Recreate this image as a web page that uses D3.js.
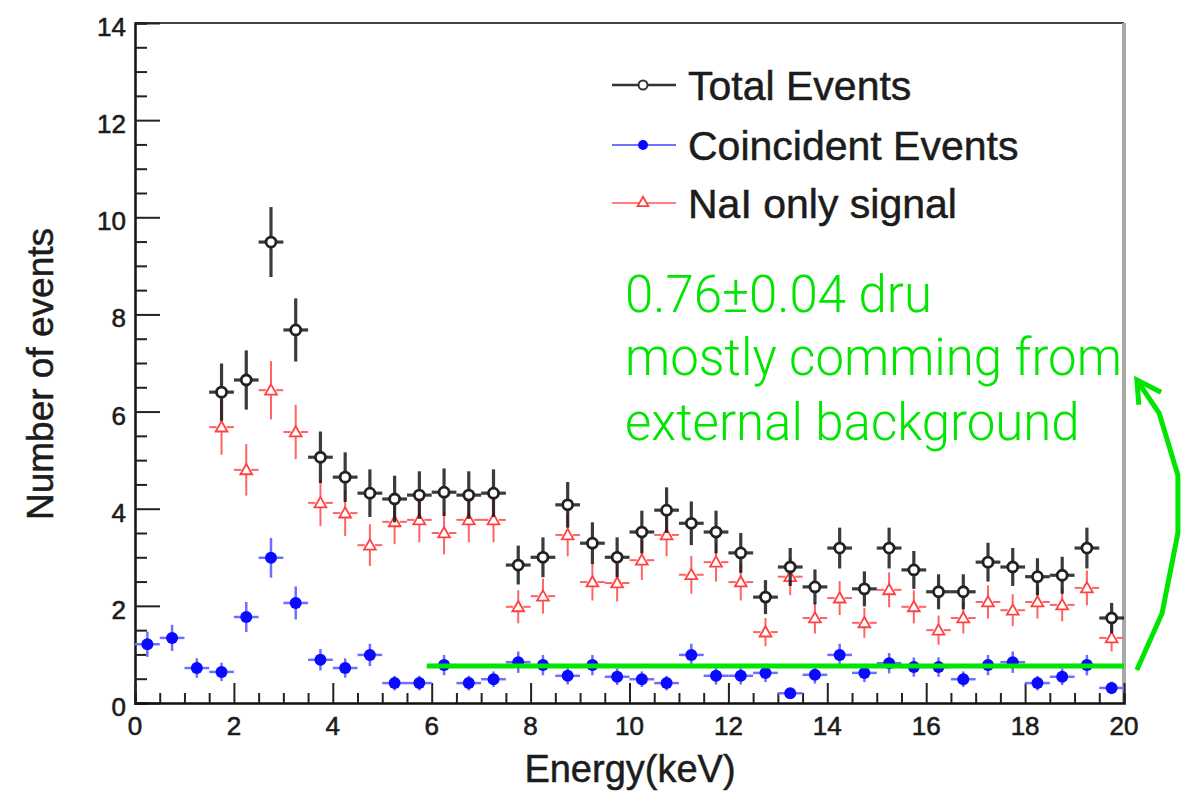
<!DOCTYPE html>
<html>
<head>
<meta charset="utf-8">
<script src="https://cdn.jsdelivr.net/npm/d3@7"></script>
<style>
  html, body { margin: 0; padding: 0; background: #fff; }
  svg { display: block; }
</style>
</head>
<body>
<svg id="chart" width="1189" height="793"></svg>
<script>
// ---------------- data ----------------
const binCentersAll = [0.25,0.75,1.25,1.75,2.25,2.75,3.25,3.75,4.25,4.75,5.25,5.75,6.25,6.75,7.25,7.75,8.25,8.75,9.25,9.75,
  10.25,10.75,11.25,11.75,12.25,12.75,13.25,13.75,14.25,14.75,15.25,15.75,16.25,16.75,17.25,17.75,18.25,18.75,19.25,19.75];
const binCentersFrom175 = binCentersAll.slice(3);
const binHalfWidth = 0.25;

const totalEvents = [6.40,6.65,9.49,7.68,5.06,4.65,4.32,4.20,4.28,4.34,4.28,4.32,2.84,3.00,4.08,3.29,3.00,3.52,3.97,3.70,
  3.52,3.09,2.18,2.80,2.39,3.19,2.35,3.19,2.74,2.29,2.29,2.90,2.80,2.60,2.63,3.19,1.75];
const totalErr = [0.59,0.61,0.72,0.65,0.53,0.51,0.49,0.48,0.49,0.49,0.49,0.49,0.40,0.41,0.47,0.43,0.41,0.44,0.47,0.45,
  0.44,0.41,0.35,0.39,0.36,0.42,0.36,0.42,0.39,0.36,0.36,0.40,0.39,0.38,0.38,0.42,0.31];

const naiOnly = [5.68,4.80,6.44,5.58,4.12,3.91,3.25,3.73,3.77,3.50,3.77,3.77,1.98,2.20,3.46,2.49,2.47,2.94,3.46,2.64,
  2.90,2.49,1.46,2.60,1.75,2.16,1.65,2.33,1.98,1.50,1.75,2.08,1.91,2.08,2.02,2.37,1.34];
const naiErr = [0.57,0.53,0.60,0.56,0.48,0.47,0.43,0.46,0.46,0.44,0.46,0.46,0.34,0.36,0.44,0.38,0.38,0.41,0.44,0.39,
  0.40,0.38,0.29,0.38,0.32,0.35,0.31,0.36,0.34,0.30,0.32,0.34,0.33,0.34,0.34,0.36,0.28];

const coincident = [1.21,1.34,0.72,0.64,1.77,2.99,2.06,0.89,0.72,0.99,0.41,0.41,0.78,0.41,0.49,0.84,0.78,0.56,0.78,0.54,
  0.49,0.41,0.99,0.56,0.56,0.62,0.20,0.58,0.99,0.62,0.82,0.74,0.74,0.49,0.78,0.84,0.41,0.54,0.78,0.31];
const coincidentErr = [0.26,0.27,0.20,0.19,0.31,0.41,0.34,0.22,0.20,0.23,0.15,0.15,0.21,0.15,0.16,0.22,0.21,0.18,0.21,0.17,
  0.16,0.15,0.23,0.18,0.18,0.19,0.11,0.18,0.23,0.19,0.21,0.20,0.20,0.16,0.21,0.22,0.15,0.17,0.21,0.13];

const xTicks = [0,2,4,6,8,10,12,14,16,18,20];
const yTicks = [0,2,4,6,8,10,12,14];
const legendLabels = ["Total Events", "Coincident Events", "NaI only signal"];

const fitLevel = 0.76;             // external background level (dru)
const fitRange = [5.9, 20];
const annotationLines = ["0.76\u00b10.04 dru", "mostly comming from", "external background"];
// arrow (drawn in data coordinates: keV, events)
const arrowCurve = [[20.26,0.68],[20.77,1.85],[21.09,3.50],[21.09,4.69],[20.71,5.97],[20.26,6.65]];
const arrowHead = [[20.30,6.14],[20.26,6.65],[20.75,6.40]];

// ---------------- layout ----------------
const svg = d3.select("#chart");
const x = d3.scaleLinear().domain([0, 20]).range([135, 1124]);
const y = d3.scaleLinear().domain([0, 14]).range([703, 23]);

const TEXT = "#1c1c1c";
const FONT = "'Liberation Sans', Arial, Helvetica, sans-serif";
const GREEN = "#00e600";

// frame
svg.append("line").attr("x1", x(0)).attr("x2", x(20)).attr("y1", y(14)).attr("y2", y(14))
  .attr("stroke", "#444").attr("stroke-width", 2);
svg.append("line").attr("x1", x(20)).attr("x2", x(20)).attr("y1", y(14)).attr("y2", y(0))
  .attr("stroke", "#a8a8a8").attr("stroke-width", 4);

// axes (ticks drawn inward)
const yAxis = d3.axisLeft(y).tickValues(d3.range(0, 14.01, 0.5)).tickSize(-12).tickFormat("");
const gy = svg.append("g").attr("transform", `translate(${x(0)},0)`).call(yAxis);
gy.selectAll(".tick line").attr("stroke", "#222").attr("stroke-width", 2)
  .attr("x2", d => (Math.abs(d % 2) < 1e-9 ? 25 : 12));
gy.select(".domain").attr("stroke", "#111").attr("stroke-width", 2.5);

const xAxis = d3.axisBottom(x).tickValues(d3.range(0, 20.01, 0.5)).tickSize(-10).tickFormat("");
const gx = svg.append("g").attr("transform", `translate(0,${y(0)})`).call(xAxis);
gx.selectAll(".tick line").attr("stroke", "#222").attr("stroke-width", 2)
  .attr("y2", d => (Math.abs(d % 2) < 1e-9 ? -20 : -10));
gx.select(".domain").attr("stroke", "#111").attr("stroke-width", 2.5);

// tick labels
svg.append("g").selectAll("text").data(yTicks).join("text")
  .attr("x", x(0) - 9).attr("y", d => y(d) + 13)
  .attr("text-anchor", "end").attr("font-family", FONT).attr("font-size", 26)
  .attr("fill", TEXT).attr("stroke", TEXT).attr("stroke-width", 0.6).text(d => d);
svg.append("g").selectAll("text").data(xTicks).join("text")
  .attr("x", d => x(d)).attr("y", y(0) + 32)
  .attr("text-anchor", "middle").attr("font-family", FONT).attr("font-size", 26)
  .attr("fill", TEXT).attr("stroke", TEXT).attr("stroke-width", 0.6).text(d => d);

// axis titles
svg.append("text").attr("x", 630).attr("y", 782).attr("text-anchor", "middle")
  .attr("font-family", FONT).attr("font-size", 38).attr("fill", TEXT)
  .attr("stroke", TEXT).attr("stroke-width", 0.5).text("Energy(keV)");
svg.append("text").attr("transform", "translate(53,374) rotate(-90)").attr("text-anchor", "middle")
  .attr("font-family", FONT).attr("font-size", 37).attr("fill", TEXT)
  .attr("stroke", TEXT).attr("stroke-width", 0.5).text("Number of events");

// ---------------- data marks ----------------
function errBars(g, xs, vals, errs, color, width, gap, opacity) {
  const d = xs.map((xv, i) => ({x: xv, v: vals[i], e: errs[i]}));
  const grp = g.append("g").attr("stroke", color).attr("stroke-width", width).attr("opacity", opacity);
  grp.selectAll(".up").data(d).join("line")
    .attr("x1", p => x(p.x)).attr("x2", p => x(p.x))
    .attr("y1", p => y(p.v) - gap).attr("y2", p => y(p.v + p.e));
  grp.selectAll(".dn").data(d).join("line")
    .attr("x1", p => x(p.x)).attr("x2", p => x(p.x))
    .attr("y1", p => y(p.v) + gap).attr("y2", p => y(p.v - p.e));
  grp.selectAll(".lf").data(d).join("line")
    .attr("x1", p => x(p.x - binHalfWidth)).attr("x2", p => x(p.x) - gap)
    .attr("y1", p => y(p.v)).attr("y2", p => y(p.v));
  grp.selectAll(".rt").data(d).join("line")
    .attr("x1", p => x(p.x) + gap).attr("x2", p => x(p.x + binHalfWidth))
    .attr("y1", p => y(p.v)).attr("y2", p => y(p.v));
  return d;
}

const plot = svg.append("g");

// coincident (blue)
const dBlue = errBars(plot, binCentersAll, coincident, coincidentErr, "#6f6fff", 2.5, 0, 1);
plot.append("g").selectAll("circle").data(dBlue).join("circle")
  .attr("cx", p => x(p.x)).attr("cy", p => y(p.v)).attr("r", 6).attr("fill", "#0a0aff");

// NaI only (red)
const dRed = errBars(plot, binCentersFrom175, naiOnly, naiErr, "#ff6464", 2, 5, 1);
const tri = d3.symbol().type(d3.symbolTriangle).size(60);
plot.append("g").selectAll("path").data(dRed).join("path")
  .attr("transform", p => `translate(${x(p.x)},${y(p.v) + 1})`).attr("d", tri)
  .attr("fill", "#fff").attr("stroke", "#ff4040").attr("stroke-width", 1.8);

// total (black), semi transparent so overlap with red looks dark red
const dBlack = errBars(plot, binCentersFrom175, totalEvents, totalErr, "#111", 3.2, 5, 0.82);
plot.append("g").selectAll("circle").data(dBlack).join("circle")
  .attr("cx", p => x(p.x)).attr("cy", p => y(p.v)).attr("r", 5)
  .attr("fill", "#fff").attr("stroke", "#222").attr("stroke-width", 2.8);

// ---------------- legend ----------------
const legendY = [85, 145, 203];
const lg = svg.append("g");
const lx1 = 612, lx2 = 676, lmx = 643;
lg.append("line").attr("x1", lx1).attr("x2", lx2).attr("y1", legendY[0]).attr("y2", legendY[0])
  .attr("stroke", "#333").attr("stroke-width", 2.5);
lg.append("circle").attr("cx", lmx).attr("cy", legendY[0]).attr("r", 4.5)
  .attr("fill", "#fff").attr("stroke", "#333").attr("stroke-width", 2);
lg.append("line").attr("x1", lx1).attr("x2", lx2).attr("y1", legendY[1]).attr("y2", legendY[1])
  .attr("stroke", "#7070ff").attr("stroke-width", 2);
lg.append("circle").attr("cx", lmx).attr("cy", legendY[1]).attr("r", 5).attr("fill", "#0a0aff");
lg.append("line").attr("x1", lx1).attr("x2", lx2).attr("y1", legendY[2]).attr("y2", legendY[2])
  .attr("stroke", "#ff8080").attr("stroke-width", 2);
lg.append("path").attr("transform", `translate(${lmx},${legendY[2]})`)
  .attr("d", d3.symbol().type(d3.symbolTriangle).size(50))
  .attr("fill", "#fff").attr("stroke", "#ff4040").attr("stroke-width", 1.8);
lg.selectAll("text").data(legendLabels).join("text")
  .attr("x", 688).attr("y", (d, i) => legendY[i] + 15)
  .attr("font-family", FONT).attr("font-size", 41).attr("fill", TEXT)
  .attr("stroke", TEXT).attr("stroke-width", 0.5).text(d => d);

// ---------------- annotation ----------------
svg.append("line").attr("x1", x(fitRange[0])).attr("x2", x(fitRange[1]))
  .attr("y1", y(fitLevel)).attr("y2", y(fitLevel))
  .attr("stroke", GREEN).attr("stroke-width", 5);

const annBase = [312, 375, 440];
const ann = svg.append("g").selectAll("text").data(annotationLines).join("text")
  .attr("x", 625).attr("y", (d, i) => annBase[i])
  .attr("font-family", "Roboto, 'Liberation Sans', sans-serif").attr("font-weight", 300)
  .attr("font-size", 46).attr("fill", GREEN).text(d => d);
// fit the annotation font so that line 2 spans ~497px like the reference
const w2 = ann.nodes()[1].getComputedTextLength();
if (w2 > 0) ann.attr("font-size", 46 * 497 / w2);

const lineGen = d3.line().x(p => x(p[0])).y(p => y(p[1]));
svg.append("path").attr("d", lineGen(arrowCurve)).attr("fill", "none")
  .attr("stroke", GREEN).attr("stroke-width", 5).attr("stroke-linecap", "butt")
  .attr("stroke-linejoin", "round");
svg.append("path").attr("d", lineGen(arrowHead))
  .attr("fill", "none").attr("stroke", GREEN).attr("stroke-width", 5)
  .attr("stroke-linejoin", "miter").attr("stroke-linecap", "butt");
</script>
</body>
</html>
